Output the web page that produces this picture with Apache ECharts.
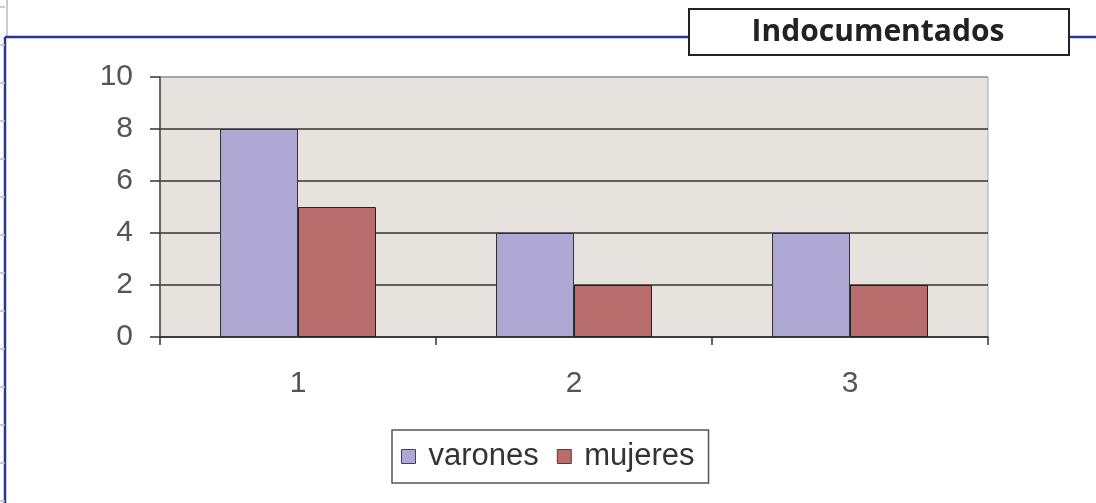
<!DOCTYPE html>
<html>
<head>
<meta charset="utf-8">
<script src="https://cdn.jsdelivr.net/npm/echarts@6/dist/echarts.min.js"></script>
<style>html,body{margin:0;padding:0;background:#fff;}#c{width:1096px;height:503px;}</style>
</head>
<body>
<div id="c"></div>
<script>
var categories = ['1', '2', '3'];
var varones = [8, 4, 4];
var mujeres = [5, 2, 2];
var seriesNames = ['varones', 'mujeres'];
var titleText = 'Indocumentados';

var chart = echarts.init(document.getElementById('c'));
var sideTicks = [];
for (var y = 7; y < 503; y += 38) {
  sideTicks.push({type:'line', shape:{x1:0,y1:y,x2:5,y2:y}, style:{stroke:'#bbb', lineWidth:1.5}, silent:true});
}
chart.setOption({
  animation: false,
  backgroundColor: '#fff',
  grid: {left:160, right:108, top:77, bottom:166, show:true, backgroundColor:'#e6e2de', borderColor:'#aaa', borderWidth:1},
  legend: {
    left: 392, top: 430,
    data: seriesNames,
    itemWidth: 14, itemHeight: 14, itemGap: 18,
    padding: [11, 14, 11, 9],
    borderColor: '#555', borderWidth: 1.5,
    textStyle: {fontFamily:'Liberation Sans, Arial', fontSize:31, color:'#333', padding:[0,0,0,8]},
    itemStyle: {borderColor:'#444', borderWidth:1},
    icon: 'rect'
  },
  xAxis: {
    type:'category', data:categories,
    axisLine:{lineStyle:{color:'#333', width:1.5}},
    axisTick:{show:true, length:8, lineStyle:{color:'#333', width:1.5}},
    axisLabel:{fontFamily:'Liberation Sans, Arial', fontSize:30, color:'#555', margin:32}
  },
  yAxis: {
    type:'value', min:0, max:10, interval:2,
    axisLine:{show:true, lineStyle:{color:'#444', width:1.5}},
    axisTick:{show:true, length:10, lineStyle:{color:'#333', width:1.5}},
    axisLabel:{fontFamily:'Liberation Sans, Arial', fontSize:30, color:'#555', margin:27},
    splitLine:{show:true, lineStyle:{color:['#333','#333','#333','#333','#333','#999'], width:1.5}}
  },
  series: [
    {name:seriesNames[0], type:'bar', data:varones, barGap:'0%', barCategoryGap:'43.5%',
     itemStyle:{color:'#b0a8d4', borderColor:'#333', borderWidth:1}},
    {name:seriesNames[1], type:'bar', data:mujeres, barGap:'0%', barCategoryGap:'43.5%',
     itemStyle:{color:'#b96c6c', borderColor:'#222', borderWidth:1}}
  ],
  graphic: [
    {type:'line', shape:{x1:7,y1:0,x2:7,y2:36}, style:{stroke:'#bbb', lineWidth:1.5}, silent:true},
    {type:'line', shape:{x1:5,y1:37,x2:1096,y2:37}, style:{stroke:'#2b3592', lineWidth:2.5}, silent:true},
    {type:'line', shape:{x1:5,y1:37,x2:5,y2:503}, style:{stroke:'#2b3592', lineWidth:2.5}, silent:true},
    {type:'rect', shape:{x:689,y:9,width:380,height:46}, style:{fill:'#fff', stroke:'#222', lineWidth:2}, silent:true},
    {type:'text', x:878, y:32, style:{text:titleText, textAlign:'center', textVerticalAlign:'middle', font:'bold 30px "Open Sans", sans-serif', fill:'#222'}, silent:true}
  ].concat(sideTicks)
});
</script>
</body>
</html>
